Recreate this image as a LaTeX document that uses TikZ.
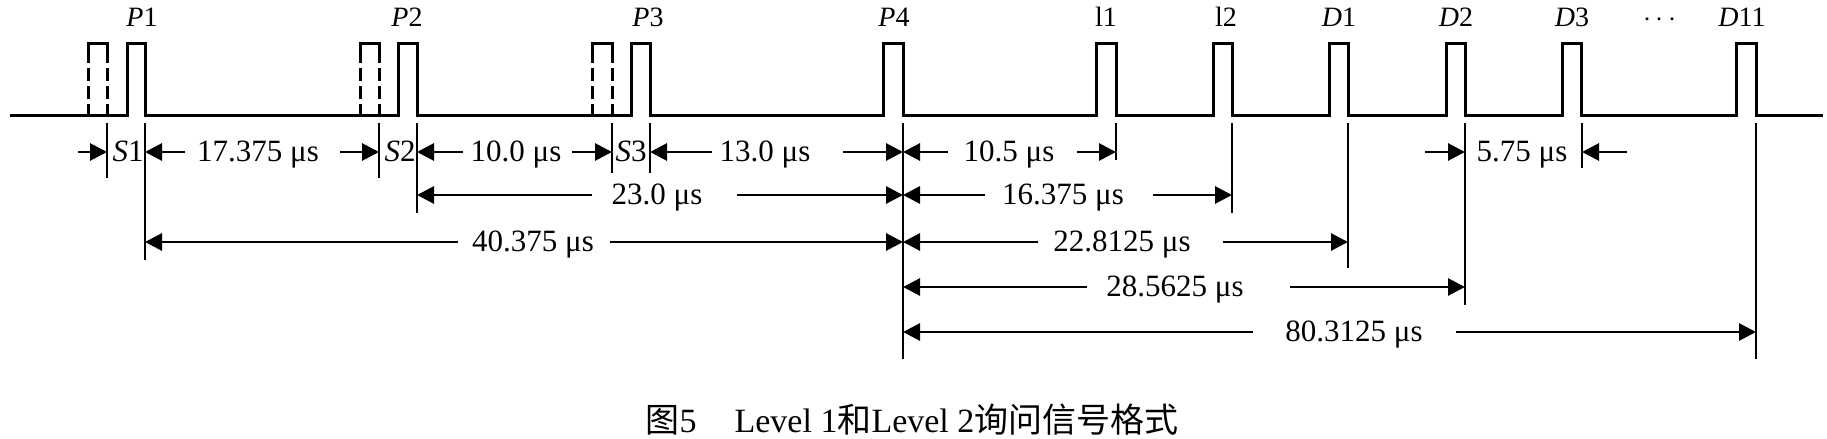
\documentclass[tikz,border=0pt]{standalone}
\usepackage{fontspec}
\setmainfont{Liberation Serif}
\newfontfamily\cjk{Noto Sans CJK SC}
\usetikzlibrary{arrows.meta}
\tikzset{
  sig/.style={line width=1.5pt, line join=miter},
  dsig/.style={line width=1.5pt, dash pattern=on 6.5pt off 2.5pt},
  ext/.style={line width=1pt},
  dim/.style={line width=1.45pt, -{Triangle[length=8.5pt,width=8.5pt]}},
  dlab/.style={font=\fontsize{15.5}{15.5}\selectfont, anchor=base, inner sep=0pt},
  plab/.style={font=\fontsize{14}{14}\selectfont, anchor=base, inner sep=0pt},
  captext/.style={font=\fontsize{17}{17}\selectfont, anchor=base, inner sep=0pt},
}
\begin{document}
\begin{tikzpicture}[x=0.5pt,y=-0.5pt]
\useasboundingbox (0,0) rectangle (1827,439);
% signal line with pulses
\draw[sig] (10,115)
  -- (127,115) -- (127,43) -- (145,43) -- (145,115)
  -- (398,115) -- (398,43) -- (417,43) -- (417,115)
  -- (631,115) -- (631,43) -- (650,43) -- (650,115)
  -- (883,115) -- (883,43) -- (903,43) -- (903,115)
  -- (1096,115) -- (1096,43) -- (1116,43) -- (1116,115)
  -- (1213,115) -- (1213,43) -- (1232,43) -- (1232,115)
  -- (1329,115) -- (1329,43) -- (1348,43) -- (1348,115)
  -- (1446,115) -- (1446,43) -- (1465,43) -- (1465,115)
  -- (1562,115) -- (1562,43) -- (1581,43) -- (1581,115)
  -- (1736,115) -- (1736,43) -- (1756,43) -- (1756,115)
  -- (1823,115);
% dashed (side-lobe) pulses
\foreach \a/\b in {88/107,360/379,592/612}{
  \draw[sig] (\a,63) -- (\a,43) -- (\b,43) -- (\b,63);
  \draw[dsig] (\a,68) -- (\a,115);
  \draw[dsig] (\b,68) -- (\b,115);
}
% pulse labels
\node[plab] (P1) at (142,26) {\itshape P\upshape 1};
\node[plab] (P2) at (407,26) {\itshape P\upshape 2};
\node[plab] (P3) at (648,26) {\itshape P\upshape 3};
\node[plab] (P4) at (894,26) {\itshape P\upshape 4};
\node[plab] (L1) at (1106,26) {l1};
\node[plab] (L2) at (1226,26) {l2};
\node[plab] (D1) at (1339,26) {\itshape D\upshape 1};
\node[plab] (D2) at (1456,26) {\itshape D\upshape 2};
\node[plab] (D3) at (1572,26) {\itshape D\upshape 3};
\node[plab] (DD) at (1660,26) {$\cdots$};
\node[plab] (D11) at (1742,26) {\itshape D\upshape 11};
% extension lines
\foreach \x/\e in {107/178,145/260,379/178,417/213,612/173,650/173,903/359,
  1116/160,1232/213,1348/268,1465/305,1582/168,1756/359}{
  \draw[ext] (\x,123) -- (\x,\e);
}
% row 1
\draw[dim] (78,152) -- (107,152);
\draw[dim] (185,152) -- (145,152);
\draw[dim] (340,152) -- (379,152);
\draw[dim] (463,152) -- (417,152);
\draw[dim] (572,152) -- (612,152);
\draw[dim] (712,152) -- (650,152);
\draw[dim] (843,152) -- (903,152);
\draw[dim] (948,152) -- (903,152);
\draw[dim] (1077,152) -- (1116,152);
\draw[dim] (1425,152) -- (1465,152);
\draw[dim] (1627,152) -- (1582,152);
\node[dlab] (S1) at (128,161.5) {\itshape S\upshape 1};
\node[dlab] (S2) at (400,161.5) {\itshape S\upshape 2};
\node[dlab] (S3) at (631,161.5) {\itshape S\upshape 3};
\node[dlab] (t1) at (258,161.5) {17.375 μs};
\node[dlab] (t2) at (516,161.5) {10.0 μs};
\node[dlab] (t3) at (765,161.5) {13.0 μs};
\node[dlab] (t4) at (1009,161.5) {10.5 μs};
\node[dlab] (t5) at (1522,161.5) {5.75 μs};
% row 2
\draw[dim] (592,195) -- (417,195);
\draw[dim] (737,195) -- (903,195);
\draw[dim] (985,195) -- (903,195);
\draw[dim] (1153,195) -- (1232,195);
\node[dlab] (t6) at (657,204.5) {23.0 μs};
\node[dlab] (t7) at (1063,204.5) {16.375 μs};
% row 3
\draw[dim] (458,242) -- (145,242);
\draw[dim] (610,242) -- (903,242);
\draw[dim] (1038,242) -- (903,242);
\draw[dim] (1223,242) -- (1348,242);
\node[dlab] (t8) at (533,251.5) {40.375 μs};
\node[dlab] (t9) at (1122,251.5) {22.8125 μs};
% row 4
\draw[dim] (1087,287) -- (903,287);
\draw[dim] (1290,287) -- (1465,287);
\node[dlab] (t10) at (1175,296.5) {28.5625 μs};
% row 5
\draw[dim] (1253,332) -- (903,332);
\draw[dim] (1456,332) -- (1756,332);
\node[dlab] (t11) at (1354,341.5) {80.3125 μs};
% caption
\node[captext] (capn) at (912,432) {{\cjk 图}5\hspace{19pt}Level 1{\cjk 和}Level 2{\cjk 询问信号格式}};
\end{tikzpicture}
\end{document}
